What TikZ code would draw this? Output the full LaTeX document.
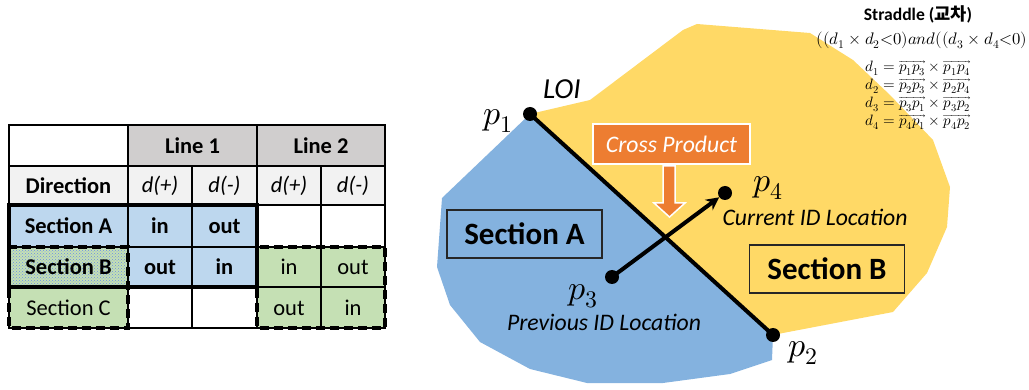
\documentclass[tikz,border=0pt]{standalone}
\usepackage{fontspec}
\usepackage{unicode-math}
\setmainfont{Carlito}
\setmathfont{Latin Modern Math}
\newfontfamily\cjk{Noto Sans CJK KR}
\usetikzlibrary{patterns,arrows.meta}

\definecolor{regionblue}{RGB}{132,178,223}
\definecolor{regionyellow}{RGB}{255,217,102}
\definecolor{crossorange}{RGB}{237,125,49}
\definecolor{cellblue}{RGB}{189,215,238}
\definecolor{cellgreen}{RGB}{197,224,180}
\definecolor{cellgray}{RGB}{208,206,206}
\definecolor{celllight}{RGB}{242,242,242}

\tikzset{
	celltext/.style={font=\fontsize{22.5}{24}\selectfont, inner sep=0pt},
	secbox/.style={draw=black!85, line width=1.3pt, minimum width=155pt, minimum height=48pt,
		font=\fontsize{31}{33}\selectfont\bfseries},
	dot/.style={circle, fill=black, minimum size=14pt, inner sep=0pt},
	plabel/.style={font=\fontsize{34}{36}\selectfont, inner sep=0pt},
	idlabel/.style={font=\fontsize{23.7}{25}\selectfont\itshape, inner sep=0pt},
	groupline/.style={line width=3.5pt},
	groupdash/.style={line width=3.5pt, dash pattern=on 9pt off 5pt}
}

\begin{document}
\begin{tikzpicture}[x=1pt,y=-1pt]
	%%%%% START %%%%%
	\useasboundingbox (0,0) rectangle (1029,390);
	
	% table cells
	\fill[cellgray] (128,125) rectangle (385,166);
	\fill[celllight] (9,166) rectangle (385,205);
	\fill[cellblue] (9,205) rectangle (257,247);
	\fill[cellblue] (128,247) rectangle (257,287);
	\fill[cellgreen] (9,247) rectangle (128,328);
	\fill[pattern=crosshatch dots, pattern color=regionblue!80!blue] (9,247) rectangle (128,287);
	\fill[cellgreen] (257,247) rectangle (385,328);
	
	% table grid
	\draw[line width=1.2pt] (9,125) rectangle (385,328);
	\foreach \y in {166,205,247,287}
		\draw[line width=1.2pt] (9,\y) -- (385,\y);
	\draw[line width=1.2pt] (128,125) -- (128,328);
	\draw[line width=1.2pt] (257,125) -- (257,328);
	\draw[line width=1.2pt] (192,166) -- (192,328);
	\draw[line width=1.2pt] (321,166) -- (321,328);
	
	% groups
	\draw[groupline] (9,205) rectangle (257,287);
	\draw[groupdash] (9,247) rectangle (128,328);
	\draw[groupdash] (257,247) rectangle (385,328);
	
	% table texts
	\node[celltext, font=\fontsize{22.5}{24}\selectfont\bfseries] (line1) at (192.5,146) {Line 1};
	\node[celltext, font=\fontsize{22.5}{24}\selectfont\bfseries] (line2) at (321,146) {Line 2};
	\node[celltext, font=\fontsize{22.5}{24}\selectfont\bfseries] (direction) at (68.5,186) {Direction};
	\node[celltext, font=\fontsize{22.5}{24}\selectfont\itshape] (l1plus) at (160,186) {d(+)};
	\node[celltext, font=\fontsize{22.5}{24}\selectfont\itshape] (l1minus) at (224.5,186) {d(-)};
	\node[celltext, font=\fontsize{22.5}{24}\selectfont\itshape] (l2plus) at (289,186) {d(+)};
	\node[celltext, font=\fontsize{22.5}{24}\selectfont\itshape] (l2minus) at (353,186) {d(-)};
	\node[celltext, font=\fontsize{22.5}{24}\selectfont\bfseries] (seca) at (68.5,226) {Section A};
	\node[celltext, font=\fontsize{22.5}{24}\selectfont\bfseries] (secain) at (160,226) {in};
	\node[celltext, font=\fontsize{22.5}{24}\selectfont\bfseries] (secaout) at (224.5,226) {out};
	\node[celltext, font=\fontsize{22.5}{24}\selectfont\bfseries] (secb) at (68.5,267) {Section B};
	\node[celltext, font=\fontsize{22.5}{24}\selectfont\bfseries] (secbout) at (160,267) {out};
	\node[celltext, font=\fontsize{22.5}{24}\selectfont\bfseries] (secbin) at (224.5,267) {in};
	\node[celltext] (secbin2) at (289,267) {in};
	\node[celltext] (secbout2) at (353,267) {out};
	\node[celltext] (secc) at (68.5,308) {Section C};
	\node[celltext] (seccout2) at (289,308) {out};
	\node[celltext] (seccin2) at (353,308) {in};
	
	% regions
	\fill[regionyellow] (530,114) -- (590,100) -- (683,30) -- (697,24) -- (810,33) -- (853,60)
		-- (890,95) -- (933,140) -- (950,187) -- (947,227) -- (927,273) -- (893,312)
		-- (783,333) -- (773,335) -- cycle;
	\fill[regionblue] (530,114) -- (442,198) -- (437,267) -- (450,305) -- (480,342) -- (530,369)
		-- (587,383) -- (663,383) -- (730,374) -- (772,360) -- (773,335) -- cycle;
	
	\node[secbox] (boxa) at (524.5,234) {Section A};
	\node[secbox] (boxb) at (827,269) {Section B};
	
	% cross product
	\node[fill=crossorange, draw=white, line width=2pt, minimum width=157pt, minimum height=40pt,
		text=white, font=\fontsize{23.7}{25}\selectfont\itshape] (cross) at (671.5,144) {Cross Product};
	\draw[white, line width=1.5pt, fill=crossorange] (663,166) -- (675,166) -- (675,203) -- (685,203)
		-- (669.5,217) -- (654,203) -- (663,203) -- cycle;
	
	% LOI and movement
	\node[dot] (p1) at (530,114) {};
	\node[dot] (p2) at (773,335) {};
	\node[dot] (p3) at (612,277) {};
	\node[dot] (p4) at (725,193) {};
	\draw[line width=4pt] (p1.center) -- (p2.center);
	\draw[line width=4pt, -{Stealth[length=13pt,width=13pt]}] (p3.center) -- (p4);
	
	\node[plabel] (p1lbl) at (498,121) {$p_1$};
	\node[plabel] (p2lbl) at (803,353) {$p_2$};
	\node[plabel] (p3lbl) at (583,296) {$p_3$};
	\node[plabel] (p4lbl) at (768,188) {$p_4$};
	\node[idlabel, font=\fontsize{29}{31}\selectfont\itshape] (loi) at (562,89) {LOI};
	\node[idlabel] (current) at (815,217) {Current ID Location};
	\node[idlabel] (previous) at (604,322) {Previous ID Location};
	
	% straddle condition
	\node[font=\fontsize{17.6}{19}\selectfont\bfseries, inner sep=0pt] (straddle) at (918,14)
		{Straddle ({\cjk 교차})};
	\node[font=\fontsize{16.7}{18}\selectfont, inner sep=0pt] (cond) at (922,40)
		{$((d_1\times d_2{<}0)and((d_3\times d_4{<}0)$};
	\node[font=\fontsize{15}{18}\selectfont, align=center, inner sep=0pt] (dlist) at (918,95)
		{$d_1=\overrightarrow{p_1p_3}\times\overrightarrow{p_1p_4}$\\
		 $d_2=\overrightarrow{p_2p_3}\times\overrightarrow{p_2p_4}$\\
		 $d_3=\overrightarrow{p_3p_1}\times\overrightarrow{p_3p_2}$\\
		 $d_4=\overrightarrow{p_4p_1}\times\overrightarrow{p_4p_2}$};
	%%%%% END %%%%%
\end{tikzpicture}
\end{document}
